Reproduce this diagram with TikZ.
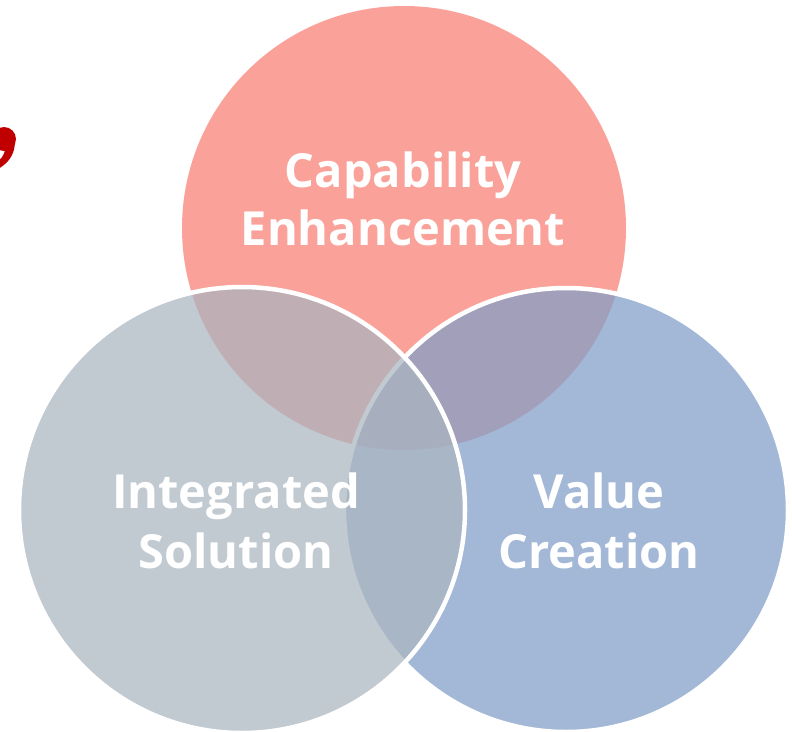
\documentclass[tikz,border=0pt]{standalone}
\usepackage{fontspec}
\setmainfont{Open Sans}
\definecolor{topred}{RGB}{250,162,154}
\definecolor{leftgray}{RGB}{170,181,192}
\definecolor{rightblue}{RGB}{129,158,199}
\definecolor{commared}{RGB}{192,0,0}
\tikzset{
  venn/.style={line width=4.5pt},
  lbl/.style={text=white, font=\fontsize{47}{58}\selectfont\bfseries, anchor=base, inner sep=0pt}
}
\begin{document}
\begin{tikzpicture}[x=1pt,y=-1pt]
\useasboundingbox (0,0) rectangle (792,731);
\clip (0,0) rectangle (792,731);
% comma
\fill[commared] (4,139) circle (12);
\fill[commared] (15,141) .. controls (15,155) and (8,164) .. (-4,170) -- (-6,164) .. controls (2,160) and (6,152) .. (5,146) -- cycle;
% circles
\fill[topred] (404,228) circle (222);
\filldraw[venn, draw=white, fill=rightblue, fill opacity=0.73] (566,510) circle (222);
\filldraw[venn, draw=white, fill=leftgray, fill opacity=0.73] (242,510) circle (223);
% labels
\node[lbl] (c1) at (403,187) {Capability};
\node[lbl] (c2) at (403,245) {Enhancement};
\node[lbl] (l1) at (236,508) {Integrated};
\node[lbl] (l2) at (236,568) {Solution};
\node[lbl] (r1) at (599,508) {Value};
\node[lbl] (r2) at (599,568) {Creation};
\end{tikzpicture}
\end{document}
